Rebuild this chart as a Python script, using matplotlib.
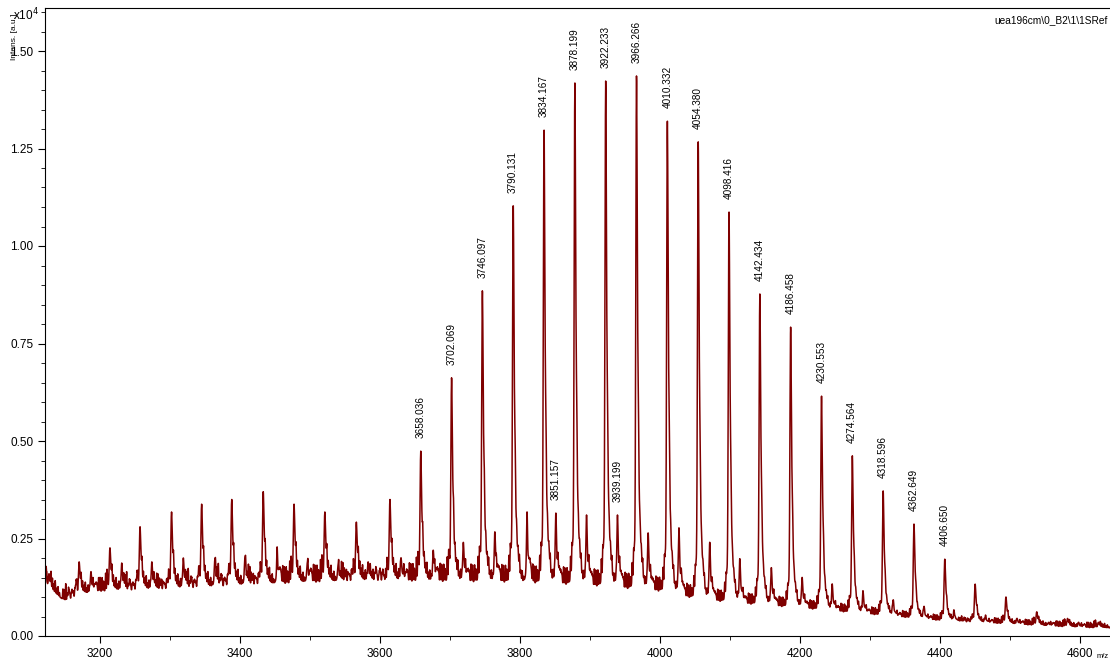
import numpy as np
import matplotlib
matplotlib.use("Agg")
import matplotlib.pyplot as plt
from matplotlib.ticker import MultipleLocator, FormatStrFormatter

plt.rcParams['font.family'] = ['Liberation Sans', 'DejaVu Sans']

# main cluster peaks (m/z, intensity in units of 1e4 a.u.)
main_mz = [3127, 3170, 3214, 3257, 3302, 3345, 3388, 3433, 3477, 3521, 3566, 3614,
           3658.036, 3702.069, 3746.097, 3790.131, 3834.167, 3878.199, 3922.233,
           3966.266, 4010.332, 4054.380, 4098.416, 4142.434, 4186.458, 4230.553,
           4274.564, 4318.596, 4362.649, 4406.650, 4450, 4494, 4538, 4582, 4626]
main_h = [0.16, 0.19, 0.226, 0.28, 0.318, 0.338, 0.35, 0.37, 0.338, 0.318, 0.292, 0.35,
          0.474, 0.662, 0.885, 1.103, 1.297, 1.418, 1.423,
          1.436, 1.32, 1.267, 1.087, 0.877, 0.792, 0.615,
          0.462, 0.372, 0.287, 0.197, 0.133, 0.10, 0.062, 0.045, 0.035]

# labelled peaks
label_mz = [3658.036, 3702.069, 3746.097, 3790.131, 3834.167, 3851.157, 3878.199,
            3922.233, 3939.199, 3966.266, 4010.332, 4054.380, 4098.416, 4142.434,
            4186.458, 4230.553, 4274.564, 4318.596, 4362.649, 4406.650]

# satellite peaks (+17 Da series)
sat_mz = [3187, 3231, 3274, 3319, 3364, 3407, 3453, 3496, 3540, 3583, 3630, 3676,
          3719, 3764, 3810, 3851.157, 3895, 3939.199, 3983, 4027, 4071, 4114, 4159,
          4203, 4246, 4290, 4333, 4377, 4420, 4465, 4510, 4555, 4598]
sat_h = [0.165, 0.187, 0.19, 0.20, 0.195, 0.20, 0.20, 0.185, 0.18, 0.19, 0.20, 0.22,
         0.24, 0.267, 0.29, 0.315, 0.31, 0.31, 0.264, 0.277, 0.24, 0.195, 0.175,
         0.15, 0.13, 0.113, 0.09, 0.074, 0.06, 0.05, 0.045, 0.035, 0.035]

# baseline level read from the noise floor
base_mz = [3121, 3135, 3150, 3170, 3200, 3300, 3400, 3500, 3600, 3700, 3800, 3900,
           4000, 4050, 4100, 4200, 4300, 4400, 4500, 4600, 4670]
base_h = [0.135, 0.11, 0.09, 0.105, 0.115, 0.12, 0.13, 0.138, 0.142, 0.14, 0.138, 0.13,
          0.115, 0.096, 0.086, 0.072, 0.056, 0.04, 0.031, 0.022, 0.02]

# small bumps around every cluster (offset in Da, height)
grass_off = [-21, -19, -16, -14, -11, -9, -6, -4, -3, 3, 5, 7, 9, 11, 13, 15,
             20, 22, 24, 26, 28, 30, 33, 35, 38, 40]
grass_h = [0.018, 0.026, 0.012, 0.030, 0.020, 0.014, 0.028, 0.050, 0.035, 0.040,
           0.032, 0.022, 0.036, 0.018, 0.026, 0.012, 0.030, 0.016, 0.027, 0.020,
           0.034, 0.014, 0.024, 0.018, 0.028, 0.012]

mz = np.arange(3121, 4672, 0.2)
base = np.interp(mz, base_mz, base_h)
grass = np.zeros_like(mz)
spec = np.zeros_like(mz)


def peak(center, height, sigma):
    return height * np.exp(-0.5 * ((mz - center) / sigma) ** 2)


for c, h in zip(main_mz, main_h):
    lvl = np.interp(c, base_mz, base_h)
    shape = peak(c, 0.62, 0.9) + peak(c + 1.6, 0.26, 1.4) + peak(c + 2.5, 0.12, 4.0)
    spec += (h - lvl) * shape / shape.max()
    scale = max(lvl / 0.14, 0.3)
    for o, g in zip(grass_off, grass_h):
        grass += peak(c + o, g * scale, 0.4)

for c, h in zip(sat_mz, sat_h):
    lvl = np.interp(c, base_mz, base_h)
    shape = peak(c, 0.7, 0.8) + peak(c + 1.8, 0.3, 2.8)
    spec += (h - lvl) * shape / shape.max()

y = base + spec + grass

fig = plt.figure(figsize=(11.1, 6.62), dpi=100)
ax = fig.add_axes([45 / 1110, 26 / 662, 1085 / 1110, 628.5 / 662])
ax.plot(mz, y, color='#7f0000', lw=1.1)

ax.set_xlim(3121.4, 3121.4 + 1085 / 0.7)
ax.set_ylim(0, 628.5 / 390)

ax.xaxis.set_major_locator(MultipleLocator(200))
ax.xaxis.set_minor_locator(MultipleLocator(100))
ax.yaxis.set_major_locator(MultipleLocator(0.25))
ax.yaxis.set_minor_locator(MultipleLocator(0.05))
ax.yaxis.set_major_formatter(FormatStrFormatter('%.2f'))
ax.tick_params(which='major', direction='out', length=5, labelsize=8.5)
ax.tick_params(which='minor', direction='out', length=3)
ax.spines['right'].set_visible(False)

for m in label_mz:
    idx = np.argmin(np.abs(mz - m))
    top = y[max(idx - 10, 0):idx + 10].max()
    ax.annotate(f'{m:.3f}', (m, top), xytext=(0, 9.5), textcoords='offset points',
                rotation=90, ha='center', va='bottom', fontsize=7.2)

fig.text(14 / 1110, 1 - 37 / 662, 'Intens. [a.u.]', rotation=90, fontsize=6,
         ha='center', va='center')
fig.text(13 / 1110, 1 - 15 / 662, r'x10$^4$', fontsize=8.5, ha='left', va='center')
fig.text(1108 / 1110, 1 - 20 / 662, 'uea196cm\\0_B2\\1\\1SRef', fontsize=7.3,
         ha='right', va='center')
fig.text(1097 / 1110, 1 - 656 / 662, 'm/z', fontsize=5.5, ha='left', va='center')

fig.savefig('out.png', dpi=100)
